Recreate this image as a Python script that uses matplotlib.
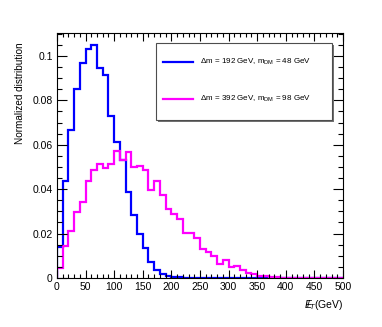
# -*- coding: utf-8 -*-
# MET distributions for two mass points, ROOT-style histogram outline
import numpy as np
import matplotlib
matplotlib.use("Agg")
import matplotlib.pyplot as plt
from matplotlib.lines import Line2D
from matplotlib.patches import Rectangle
from matplotlib.ticker import MultipleLocator, FuncFormatter

plt.rcParams['font.family'] = ['Liberation Sans', 'DejaVu Sans']
plt.rcParams['mathtext.fontset'] = 'custom'
plt.rcParams['mathtext.rm'] = 'Liberation Sans'
plt.rcParams['mathtext.it'] = 'Liberation Sans:italic'
plt.rcParams['mathtext.bf'] = 'Liberation Sans:bold'

# ============ data (10 GeV bins, 0-500 GeV) ============
bin_edges = np.arange(0, 510, 10)

met_dm48 = [0.0140, 0.0435, 0.0665, 0.0850, 0.0970, 0.1030, 0.1050, 0.0946, 0.0913, 0.0730,
            0.0610, 0.0530, 0.0386, 0.0282, 0.0197, 0.0137, 0.0072, 0.0035, 0.0017, 0.0010,
            0.0005, 0.0003, 0.0002, 0.0002, 0.0001, 0.0001, 0.0001, 0.0001, 0.0001, 0.0001,
            0.0001, 0.0001, 0.0001, 0.0001, 0.0001, 0.0001, 0.0001, 0.0001, 0.0000, 0.0000,
            0.0000, 0.0000, 0.0000, 0.0000, 0.0000, 0.0000, 0.0000, 0.0000, 0.0000, 0.0000]

met_dm98 = [0.0045, 0.0144, 0.0212, 0.0297, 0.0342, 0.0438, 0.0488, 0.0512, 0.0495, 0.0512,
            0.0570, 0.0530, 0.0567, 0.0500, 0.0504, 0.0485, 0.0395, 0.0435, 0.0375, 0.0312,
            0.0290, 0.0264, 0.0203, 0.0203, 0.0182, 0.0132, 0.0117, 0.0099, 0.0065, 0.0080,
            0.0050, 0.0054, 0.0035, 0.0024, 0.0017, 0.0009, 0.0008, 0.0006, 0.0003, 0.0002,
            0.0001, 0.0001, 0.0001, 0.0000, 0.0000, 0.0000, 0.0000, 0.0000, 0.0000, 0.0000]

labels = [r'$\Delta$m = 192 GeV, m$_{\rm DM}$ = 48 GeV',
          r'$\Delta$m = 392 GeV, m$_{\rm DM}$ = 98 GeV']
colors = ['#0000ff', '#ff00ff']

W, H = 382, 327
fig = plt.figure(figsize=(W / 100, H / 100), dpi=100)
ax = fig.add_axes([0.149, 0.150, 0.749, 0.749])

for vals, col in zip([met_dm48, met_dm98], colors):
    ax.stairs(vals, bin_edges, color=col, lw=1.6, baseline=0)

ax.set_xlim(0, 500)
ax.set_ylim(0, 0.1103)

# ticks on all sides, pointing in (ROOT style)
ax.xaxis.set_major_locator(MultipleLocator(50))
ax.xaxis.set_minor_locator(MultipleLocator(10))
ax.yaxis.set_major_locator(MultipleLocator(0.02))
ax.yaxis.set_minor_locator(MultipleLocator(0.005))
ax.yaxis.set_major_formatter(FuncFormatter(lambda v, p: f'{v:g}'))
ax.tick_params(which='both', direction='in', top=True, right=True, width=0.8,
               labelsize=7.5, pad=3)
ax.tick_params(axis='y', which='major', length=7)
ax.tick_params(axis='y', which='minor', length=3.5)
ax.tick_params(axis='x', which='major', length=6)
ax.tick_params(axis='x', which='minor', length=3)
for sp in ax.spines.values():
    sp.set_linewidth(0.8)

# axis titles
fig.text(0.052, 0.869, 'Normalized distribution', rotation=90, ha='center', va='top',
         fontsize=7.2)
fig.text(0.898, 0.067, r'$E\!\!\!/_{T}$(GeV)', ha='right', va='center', fontsize=7.5)

# legend box (ROOT TLegend look: frame + drop shadow), pixel layout
x0, x1, y0, y1 = 156, 332, 43, 120
fig.patches.append(Rectangle((x0 + 1.5, H - y1 - 1.5), x1 - x0, y1 - y0,
                             transform=None, facecolor='0.45', edgecolor='none', zorder=5))
fig.patches.append(Rectangle((x0, H - y1), x1 - x0, y1 - y0, transform=None,
                             facecolor='white', edgecolor='0.3', lw=0.8, zorder=6))
for row_y, lab, col in zip([62, 99], labels, colors):
    fig.lines.append(Line2D([163, 193], [H - row_y, H - row_y], transform=None,
                            color=col, lw=1.6, zorder=7))
    fig.text(200 / W, 1 - row_y / H, lab, ha='left', va='center', fontsize=5.8, zorder=7)

plt.savefig('out.png', dpi=100)
plt.close()
